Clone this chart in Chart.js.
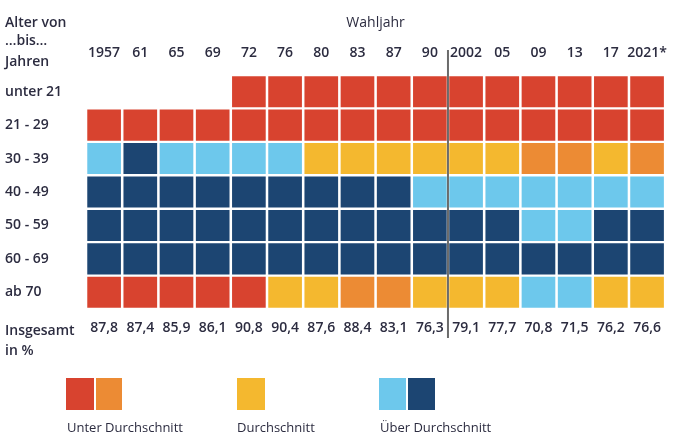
<!DOCTYPE html>
<html>
<head>
<meta charset="utf-8">
<script src="https://cdn.jsdelivr.net/npm/chart.js@4"></script>
<style>
  body { margin: 0; background: #fff; font-family: 'Open Sans', sans-serif; color: #2c2c40; }
  #wrap { position: relative; width: 673px; height: 436px; overflow: hidden; }
  #wrap canvas { position: absolute; left: 0; top: 0; }
  .lbl { position: absolute; font-size: 14px; font-weight: 600; line-height: 16px; white-space: nowrap; }
  .leg { position: absolute; font-size: 13px; line-height: 16px; white-space: nowrap; }
  .sw { position: absolute; top: 378px; height: 32px; }
</style>
</head>
<body>
<div id="wrap">
  <canvas id="chart" width="673" height="436"></canvas>

  <div class="lbl" style="left:5px;top:14px">Alter von</div>
  <div class="lbl" style="left:5px;top:32px">…bis…</div>
  <div class="lbl" style="left:5px;top:53px">Jahren</div>
  <div class="lbl" style="left:5px;top:322px">Insgesamt</div>
  <div class="lbl" style="left:5px;top:342px">in %</div>

  <div class="sw" style="left:66px;width:28px;background:#d8432f"></div>
  <div class="sw" style="left:96px;width:26px;background:#ec8b34"></div>
  <div class="sw" style="left:237px;width:28px;background:#f4b82f"></div>
  <div class="sw" style="left:379px;width:27px;background:#6dc8ec"></div>
  <div class="sw" style="left:408px;width:27px;background:#1c4572"></div>
  <div class="leg" style="left:67px;top:419px">Unter Durchschnitt</div>
  <div class="leg" style="left:237px;top:419px">Durchschnitt</div>
  <div class="leg" style="left:380px;top:419px">Über Durchschnitt</div>
</div>

<script>
// Wahljahre (Spalten)
const years = ['1957', '61', '65', '69', '72', '76', '80', '83', '87', '90', '2002', '05', '09', '13', '17', '2021*'];

// Altersgruppen (Zeilen)
const ageGroups = ['unter 21', '21 - 29', '30 - 39', '40 - 49', '50 - 59', '60 - 69', 'ab 70'];

// Wahlbeteiligung insgesamt in %
const totals = ['87,8', '87,4', '85,9', '86,1', '90,8', '90,4', '87,6', '88,4', '83,1', '76,3', '79,1', '77,7', '70,8', '71,5', '76,2', '76,6'];

// Kategorie je Zelle: R = deutlich unter, O = unter, Y = Durchschnitt, L = über, B = deutlich über Durchschnitt
const unter21 = [null, null, null, null, 'R', 'R', 'R', 'R', 'R', 'R', 'R', 'R', 'R', 'R', 'R', 'R'];
const age21to29 = ['R', 'R', 'R', 'R', 'R', 'R', 'R', 'R', 'R', 'R', 'R', 'R', 'R', 'R', 'R', 'R'];
const age30to39 = ['L', 'B', 'L', 'L', 'L', 'L', 'Y', 'Y', 'Y', 'Y', 'Y', 'Y', 'O', 'O', 'Y', 'O'];
const age40to49 = ['B', 'B', 'B', 'B', 'B', 'B', 'B', 'B', 'B', 'L', 'L', 'L', 'L', 'L', 'L', 'L'];
const age50to59 = ['B', 'B', 'B', 'B', 'B', 'B', 'B', 'B', 'B', 'B', 'B', 'B', 'L', 'L', 'B', 'B'];
const age60to69 = ['B', 'B', 'B', 'B', 'B', 'B', 'B', 'B', 'B', 'B', 'B', 'B', 'B', 'B', 'B', 'B'];
const ab70 = ['R', 'R', 'R', 'R', 'R', 'Y', 'Y', 'O', 'O', 'Y', 'Y', 'Y', 'L', 'L', 'Y', 'Y'];

const rows = [unter21, age21to29, age30to39, age40to49, age50to59, age60to69, ab70];

const colors = { R: '#d8432f', O: '#ec8b34', Y: '#f4b82f', L: '#6dc8ec', B: '#1c4572' };
const textColor = '#2c2c40';
const tickFont = { family: "'Open Sans', sans-serif", size: 14, weight: '600' };

// Jede Zeile ist ein Datensatz aus schwebenden Balken über die Zeilenhöhe
const datasets = rows.map((row, r) => ({
    label: ageGroups[r],
    data: row.map(c => c ? [r - 0.465, r + 0.465] : null),
    backgroundColor: row.map(c => c ? colors[c] : 'transparent'),
    borderWidth: 0,
    grouped: false,
    barPercentage: 0.93,
    categoryPercentage: 1
}));

// Trennlinie zwischen 1990 und 2002
const dividerPlugin = {
    id: 'divider',
    afterDatasetsDraw(chart) {
        const x = chart.scales.x;
        const px = (x.getPixelForValue(9) + x.getPixelForValue(10)) / 2;
        const ctx = chart.ctx;
        ctx.save();
        ctx.strokeStyle = '#6b6b6b';
        ctx.lineWidth = 2;
        ctx.beginPath();
        ctx.moveTo(px, 50);
        ctx.lineTo(px, 338);
        ctx.stroke();
        ctx.restore();
    }
};

new Chart(document.getElementById('chart'), {
    type: 'bar',
    data: { labels: years, datasets },
    options: {
        responsive: false,
        animation: false,
        layout: { padding: { left: 5, right: 3, top: 0, bottom: 87 } },
        plugins: { legend: { display: false }, tooltip: { enabled: false } },
        scales: {
            x: {
                type: 'category',
                position: 'top',
                grid: { display: false },
                border: { display: false },
                ticks: { color: textColor, font: tickFont, padding: 6, maxRotation: 0, autoSkip: false },
                title: {
                    display: true,
                    text: 'Wahljahr',
                    color: textColor,
                    font: { family: "'Open Sans', sans-serif", size: 14, weight: '500' },
                    padding: { top: 15, bottom: 0 }
                },
                afterFit(s) { s.height = 75; }
            },
            x2: {
                type: 'category',
                labels: totals,
                position: 'bottom',
                grid: { display: false },
                border: { display: false },
                ticks: { color: textColor, font: tickFont, padding: 3, maxRotation: 0, autoSkip: false },
                afterFit(s) { s.height = 40; }
            },
            y: {
                type: 'linear',
                min: -0.5,
                max: 6.5,
                reverse: true,
                grid: { display: false },
                border: { display: false },
                afterBuildTicks(s) { s.ticks = ageGroups.map((_, i) => ({ value: i })); },
                ticks: {
                    color: textColor,
                    font: tickFont,
                    padding: 0,
                    crossAlign: 'far',
                    callback: v => ageGroups[v]
                },
                afterFit(s) { s.width = 81; }
            }
        }
    },
    plugins: [dividerPlugin]
});
</script>
</body>
</html>
